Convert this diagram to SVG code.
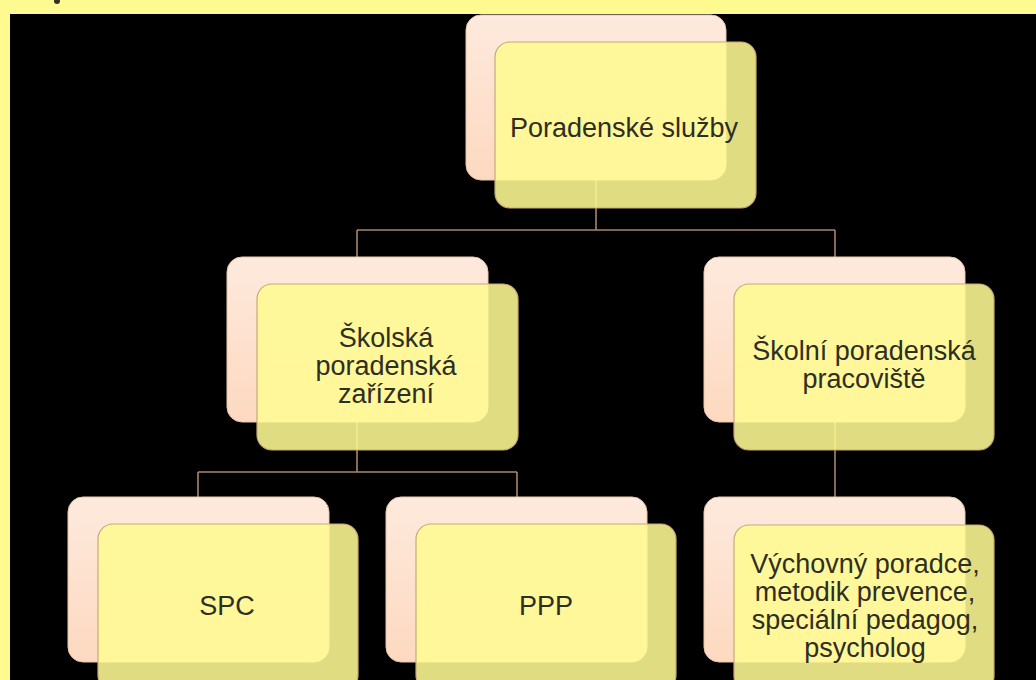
<svg xmlns="http://www.w3.org/2000/svg" width="1036" height="680" viewBox="0 0 1036 680">
<defs>
<linearGradient id="pink" x1="0" y1="0" x2="0" y2="1">
<stop offset="0" stop-color="#FDEADD"/>
<stop offset="1" stop-color="#FDD9C0"/>
</linearGradient>
<style>
.back{fill:url(#pink);stroke:#E8C8A8;stroke-width:1}
.front{fill:#FFFA93;fill-opacity:0.88;stroke:#C9A878;stroke-width:1.2}
.lbl{font-family:"Liberation Sans",Arial,sans-serif;font-size:27px;fill:#2E2E22;text-anchor:middle}
.conn{fill:none;stroke:#A8866A;stroke-width:1.6}
</style>
</defs>
<rect x="0" y="0" width="1036" height="680" fill="#FFFA90"/>
<rect x="10" y="14" width="1026" height="666" fill="#000000"/>
<ellipse cx="57" cy="1" rx="3" ry="3" fill="#333322"/>
<g id="connectors">
<path class="conn" d="M596,180 V230 M357,230 H835 M357,230 V257 M835,230 V257"/>
<path class="conn" d="M357,422 V472 M198,472 H517 M198,472 V497 M517,472 V497"/>
<path class="conn" d="M835,422 V497"/>
</g>
<g id="node-root">
<rect class="back" x="466" y="15" width="260" height="165" rx="15"/>
<rect class="front" x="495" y="42" width="261" height="166" rx="15"/>
<text class="lbl" x="624" y="137">Poradenské služby</text>
</g>
<g id="node-skolska">
<rect class="back" x="227" y="257" width="261" height="165" rx="15"/>
<rect class="front" x="257" y="284" width="261" height="166" rx="15"/>
<text class="lbl" x="386" y="347">Školská</text>
<text class="lbl" x="386" y="375">poradenská</text>
<text class="lbl" x="386" y="403">zařízení</text>
</g>
<g id="node-skolni">
<rect class="back" x="704" y="257" width="261" height="165" rx="15"/>
<rect class="front" x="734" y="284" width="260" height="166" rx="15"/>
<text class="lbl" x="864" y="360">Školní poradenská</text>
<text class="lbl" x="864" y="388">pracoviště</text>
</g>
<g id="node-spc">
<rect class="back" x="68" y="497" width="261" height="165" rx="15"/>
<rect class="front" x="98" y="524" width="260" height="166" rx="15"/>
<text class="lbl" x="227" y="615">SPC</text>
</g>
<g id="node-ppp">
<rect class="back" x="386" y="497" width="261" height="165" rx="15"/>
<rect class="front" x="416" y="524" width="260" height="166" rx="15"/>
<text class="lbl" x="546" y="615">PPP</text>
</g>
<g id="node-pracovnici">
<rect class="back" x="704" y="497" width="261" height="165" rx="15"/>
<rect class="front" x="734" y="525" width="260" height="166" rx="15"/>
<text class="lbl" x="865" y="573">Výchovný poradce,</text>
<text class="lbl" x="865" y="601">metodik prevence,</text>
<text class="lbl" x="865" y="629">speciální pedagog,</text>
<text class="lbl" x="865" y="657">psycholog</text>
</g>
</svg>
